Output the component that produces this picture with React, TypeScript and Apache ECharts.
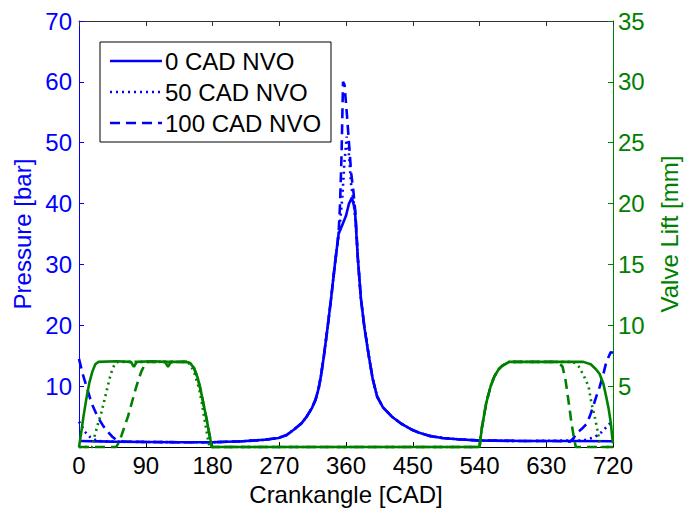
import React, { useEffect, useRef } from "react";
import * as echarts from "echarts";

// Crankangle [CAD] / Pressure [bar] pairs
const pressure0: number[][] = [
  [0, 1.0], [45, 0.9], [90, 0.85], [135, 0.8], [180, 0.8], [220, 0.95], [250, 1.2], [269, 1.5],
  [280, 2.0], [290, 2.9], [300, 3.9], [307, 5.0], [314, 6.4], [319, 7.8], [323, 9.6], [326, 11.5],
  [330, 14.8], [335, 19.5], [340, 24.5], [345, 30], [350, 35], [355, 36.5], [360, 38], [364, 40],
  [368, 41], [372, 39], [376, 31], [380, 24.5], [385, 19.5], [391, 14.8], [396, 11.2], [402, 8.3],
  [410, 6.5], [422, 5.0], [435, 3.8], [448, 2.9], [460, 2.3], [474, 1.8], [490, 1.5], [510, 1.3],
  [536, 1.1], [600, 1.0], [660, 1.0], [720, 0.95],
];
const pressure50: number[][] = [
  [0, 4.2], [8, 2.5], [16, 1.5], [25, 1.0], [45, 0.9], [90, 0.85], [135, 0.8], [180, 0.8], [220, 0.95],
  [250, 1.2], [269, 1.5], [280, 2.0], [290, 2.9], [300, 3.9], [307, 5.0], [314, 6.4], [319, 7.8],
  [323, 9.6], [326, 11.5], [330, 14.8], [335, 19.5], [340, 24.5], [345, 30], [350, 35], [352, 37],
  [355, 41], [358, 47], [361, 51], [364, 48], [367, 43], [370, 40.5], [373, 37], [376, 31], [380, 24.5],
  [385, 19.5], [391, 14.8], [396, 11.2], [402, 8.3], [410, 6.5], [422, 5.0], [435, 3.8], [448, 2.9],
  [460, 2.3], [474, 1.8], [490, 1.5], [510, 1.3], [536, 1.1], [600, 1.0], [680, 1.1], [695, 1.6],
  [705, 2.5], [712, 3.4], [720, 4.4],
];
const pressure100: number[][] = [
  [0, 14.5], [5, 12], [10, 10], [17, 7.2], [25, 5], [32, 3.6], [38, 2.6], [45, 1.7], [51, 1.1],
  [60, 0.9], [90, 0.85], [135, 0.8], [180, 0.8], [220, 0.95], [250, 1.2], [269, 1.5], [280, 2.0],
  [290, 2.9], [300, 3.9], [307, 5.0], [314, 6.4], [319, 7.8], [323, 9.6], [326, 11.5], [330, 14.8],
  [335, 19.5], [340, 24.5], [345, 30], [350, 35], [352, 40], [354, 48], [356, 60], [358, 59.5],
  [361, 55], [364, 50], [367, 45], [370, 42], [373, 38], [376, 31], [380, 24.5], [385, 19.5],
  [391, 14.8], [396, 11.2], [402, 8.3], [410, 6.5], [422, 5.0], [435, 3.8], [448, 2.9], [460, 2.3],
  [474, 1.8], [490, 1.5], [510, 1.3], [536, 1.1], [600, 1.0], [640, 1.0], [662, 0.9], [667, 1.5],
  [671, 2.3], [678, 3.0], [685, 3.9], [690, 5.5], [694, 7.0], [698, 8.5], [702, 9.9], [707, 12],
  [711, 14], [717, 15.6], [720, 15.5],
];

// Crankangle [CAD] / Valve lift [mm] pairs
const lift0: number[][] = [
  [0, 0], [3, 1.2], [6, 2.5], [10, 4.0], [14, 5.3], [18, 6.2], [22, 6.8], [26, 7.0], [50, 7.05],
  [70, 7.0], [74, 6.6], [78, 7.0], [100, 7.05], [116, 7.0], [120, 6.6], [124, 7.0], [145, 7.0],
  [150, 6.9], [155, 6.5], [160, 5.7], [164, 4.7], [168, 3.5], [172, 2.3], [176, 1.0], [179, 0],
  [540, 0], [543, 1.5], [549, 3.6], [555, 5.0], [560, 5.8], [566, 6.4], [571, 6.7], [580, 7.0],
  [680, 7.0], [690, 6.8], [697, 6.4], [702, 6.0], [707, 5.2], [711, 4.1], [714, 3.2], [717, 2.0],
  [719, 0.8], [720, 0.3],
];
const lift50: number[][] = [
  [0, 0], [18, 0], [21, 0.9], [26, 2], [30, 2.8], [34, 3.8], [38, 4.8], [42, 5.8], [45, 6.4],
  [49, 6.9], [53, 7.0], [145, 7.0], [150, 6.8], [156, 6.0], [162, 4.8], [166, 3.5], [170, 2.0],
  [174, 0.6], [176, 0], [540, 0], [543, 1.5], [549, 3.6], [555, 5.0], [560, 5.8], [566, 6.4],
  [571, 6.7], [580, 7.0], [664, 7.0], [669, 6.9], [674, 6.6], [681, 5.8], [687, 5.0], [691, 3.6],
  [695, 2.6], [698, 1.7], [702, 0.4], [705, 0], [720, 0],
];
const lift100: number[][] = [
  [0, 0], [50, 0], [54, 0.4], [57, 0.9], [62, 1.8], [66, 2.5], [71, 3.6], [76, 4.7], [80, 5.5],
  [84, 6.2], [88, 6.7], [92, 7.0], [145, 7.0], [150, 6.9], [155, 6.5], [160, 5.7], [164, 4.7],
  [168, 3.5], [172, 2.3], [176, 1.0], [179, 0], [540, 0], [543, 1.5], [549, 3.6], [555, 5.0],
  [560, 5.8], [566, 6.4], [571, 6.7], [580, 7.0], [640, 7.0], [645, 6.95], [649, 6.8], [652, 6.6],
  [656, 5.5], [660, 3.8], [664, 2.0], [668, 0.5], [670, 0], [720, 0],
];

const seriesNames = ["0 CAD NVO", "50 CAD NVO", "100 CAD NVO"];

const BLUE = "#0000ff";
const GREEN = "#008000";
const FONT = "Liberation Sans, Arial, sans-serif";

export default function App() {
  const ref = useRef<HTMLDivElement>(null);
  useEffect(() => {
    document.body.style.margin = "0";
    const chart = echarts.init(ref.current!, null, { renderer: "svg" });
    const dashTypes: any[] = ["solid", [2, 4], [10, 6]];
    const legendDash: any[] = [null, [2, 4], [10, 6]];
    const pData = [pressure0, pressure50, pressure100];
    const lData = [lift0, lift50, lift100];
    const series: any[] = [];
    pData.forEach((d, i) => {
      series.push({
        name: seriesNames[i],
        type: "line",
        data: d,
        xAxisIndex: 0,
        yAxisIndex: 0,
        symbol: "none",
        showSymbol: false,
        lineStyle: { color: BLUE, width: 2.6, type: dashTypes[i] },
        itemStyle: { color: BLUE },
        z: 2,
      });
    });
    lData.forEach((d, i) => {
      series.push({
        name: "lift " + seriesNames[i],
        type: "line",
        data: d,
        xAxisIndex: 0,
        yAxisIndex: 1,
        symbol: "none",
        showSymbol: false,
        lineStyle: { color: GREEN, width: 2.6, type: dashTypes[i] },
        itemStyle: { color: GREEN },
        z: 3,
      });
    });
    const rowY = [61, 92, 123];
    const legendChildren: any[] = [
      {
        type: "rect",
        shape: { x: 100, y: 42, width: 231, height: 100 },
        style: { fill: "#fff", stroke: "#000", lineWidth: 1 },
      },
    ];
    seriesNames.forEach((n, i) => {
      legendChildren.push({
        type: "line",
        shape: { x1: 110, y1: rowY[i], x2: 162, y2: rowY[i] },
        style: { stroke: BLUE, lineWidth: 2.6, lineDash: legendDash[i] },
      });
      legendChildren.push({
        type: "text",
        x: 165,
        y: rowY[i],
        style: {
          text: n,
          fill: "#000",
          font: `24px ${FONT}`,
          verticalAlign: "middle",
          align: "left",
        },
      });
    });
    chart.setOption({
      animation: false,
      textStyle: { fontFamily: FONT },
      grid: { left: 79, right: 62, top: 21, bottom: 60, containLabel: false },
      graphic: [{ type: "group", z: 100, children: legendChildren }],
      xAxis: [
        {
          type: "value",
          position: "bottom",
          min: 0,
          max: 720,
          interval: 90,
          name: "Crankangle [CAD]",
          nameLocation: "middle",
          nameGap: 34,
          nameTextStyle: { fontSize: 24, color: "#000", fontFamily: FONT },
          axisLine: { onZero: false, lineStyle: { color: "#000", width: 1 } },
          axisTick: { inside: true, length: 5, lineStyle: { color: "#000" } },
          axisLabel: { fontSize: 24, color: "#000", margin: 6, fontFamily: FONT },
          splitLine: { show: false },
        },
        {
          type: "value",
          position: "top",
          min: 0,
          max: 720,
          interval: 90,
          axisLine: { onZero: false, lineStyle: { color: "#333", width: 1 } },
          axisTick: { inside: true, length: 5, lineStyle: { color: "#333" } },
          axisLabel: { show: false },
          splitLine: { show: false },
        },
      ],
      yAxis: [
        {
          type: "value",
          position: "left",
          min: 0,
          max: 70,
          interval: 10,
          name: "Pressure [bar]",
          nameLocation: "middle",
          nameRotate: 90,
          nameGap: 43,
          nameTextStyle: { fontSize: 24, color: BLUE, fontFamily: FONT },
          axisLine: { show: true, onZero: false, lineStyle: { color: BLUE, width: 1 } },
          axisTick: { show: true, inside: true, length: 5, lineStyle: { color: BLUE } },
          axisLabel: {
            fontSize: 24,
            color: BLUE,
            margin: 7,
            fontFamily: FONT,
            formatter: (v: number) => (v === 0 ? "" : String(v)),
          },
          splitLine: { show: false },
        },
        {
          type: "value",
          position: "right",
          min: 0,
          max: 35,
          interval: 5,
          name: "Valve Lift [mm]",
          nameLocation: "middle",
          nameRotate: 90,
          nameGap: 44,
          nameTextStyle: { fontSize: 24, color: GREEN, fontFamily: FONT },
          axisLine: { show: true, onZero: false, lineStyle: { color: GREEN, width: 1 } },
          axisTick: { show: true, inside: true, length: 5, lineStyle: { color: GREEN } },
          axisLabel: {
            fontSize: 24,
            color: GREEN,
            margin: 5,
            fontFamily: FONT,
            formatter: (v: number) => (v === 0 ? "" : String(v)),
          },
          splitLine: { show: false },
        },
      ],
      series,
    });
    return () => chart.dispose();
  }, []);
  return <div ref={ref} style={{ width: 689, height: 511, background: "#fff" }} />;
}
